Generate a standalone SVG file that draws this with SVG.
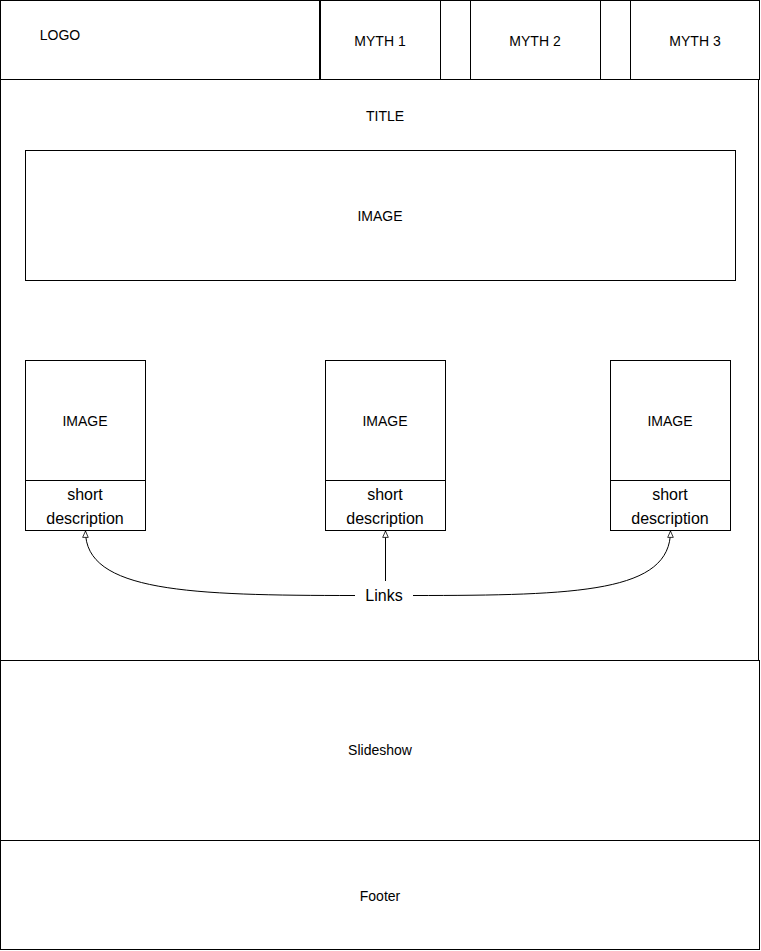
<svg xmlns="http://www.w3.org/2000/svg" width="761" height="951" viewBox="0 0 761 951">
<style>
.box{fill:#fff;stroke:#000;stroke-width:1}
.t{font-family:"Liberation Sans",Arial,sans-serif;font-size:14px;fill:#000;text-anchor:middle;dominant-baseline:central}
.d{font-size:16px}
.c{fill:none;stroke:#000;stroke-width:1}
</style>
<defs>
<marker id="arr" viewBox="0 0 10 10" refX="9" refY="5" markerWidth="8" markerHeight="8" orient="auto-start-reverse" markerUnits="userSpaceOnUse">
<path d="M1,1.5 L9,5 L1,8.5 Z" fill="#fff" stroke="#000" stroke-width="1"/>
</marker>
</defs>
<rect width="761" height="951" fill="#fff"/>
<g id="page"><rect class="box" x="0.5" y="0.5" width="758" height="949"/></g>
<g id="header"><rect class="box" x="0.5" y="0.5" width="759" height="79"/></g>
<g id="logo"><rect class="box" x="0.5" y="0.5" width="319" height="79"/><text class="t" x="60" y="35">LOGO</text></g>
<g id="myth1"><rect class="box" x="320.5" y="0.5" width="120" height="79"/><text class="t" x="380" y="41">MYTH 1</text></g>
<g id="myth2"><rect class="box" x="470.5" y="0.5" width="130" height="79"/><text class="t" x="535" y="41">MYTH 2</text></g>
<g id="myth3"><rect class="box" x="630.5" y="0.5" width="129" height="79"/><text class="t" x="695" y="41">MYTH 3</text></g>
<g id="title"><text class="t" x="385" y="116">TITLE</text></g>
<g id="mainImage"><rect class="box" x="25.5" y="150.5" width="710" height="130"/><text class="t" x="380" y="216">IMAGE</text></g>
<g id="image1"><rect class="box" x="25.5" y="360.5" width="120" height="120"/><text class="t" x="85" y="421">IMAGE</text></g>
<g id="desc1"><rect class="box" x="25.5" y="480.5" width="120" height="50"/><text class="t d" x="85" y="494">short</text><text class="t d" x="85" y="518">description</text></g>
<g id="image2"><rect class="box" x="325.5" y="360.5" width="120" height="120"/><text class="t" x="385" y="421">IMAGE</text></g>
<g id="desc2"><rect class="box" x="325.5" y="480.5" width="120" height="50"/><text class="t d" x="385" y="494">short</text><text class="t d" x="385" y="518">description</text></g>
<g id="image3"><rect class="box" x="610.5" y="360.5" width="120" height="120"/><text class="t" x="670" y="421">IMAGE</text></g>
<g id="desc3"><rect class="box" x="610.5" y="480.5" width="120" height="50"/><text class="t d" x="670" y="494">short</text><text class="t d" x="670" y="518">description</text></g>
<g id="connectors">
<path class="c" d="M355,595.5 C190,595.5 85,592 85.5,531" marker-end="url(#arr)"/>
<path class="c" d="M385.5,581 L385.5,531" marker-end="url(#arr)"/>
<path class="c" d="M413,595.5 C580,595.5 670.5,592 670.5,531" marker-end="url(#arr)"/>
</g>
<g id="links"><text class="t d" x="384" y="595">Links</text></g>
<g id="slideshow"><rect class="box" x="0.5" y="660.5" width="759" height="180"/><text class="t" x="380" y="750">Slideshow</text></g>
<g id="footer"><rect class="box" x="0.5" y="840.5" width="759" height="109"/><text class="t" x="380" y="896">Footer</text></g>
</svg>
